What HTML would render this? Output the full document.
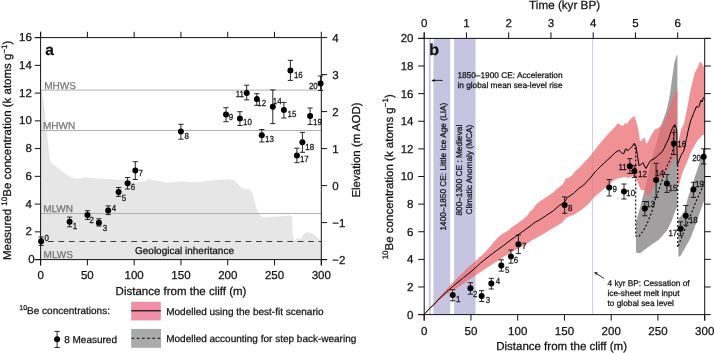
<!DOCTYPE html>
<html><head><meta charset="utf-8"><style>
html,body{margin:0;padding:0;background:#fff;overflow:hidden;}
svg{display:block;font-family:"Liberation Sans", sans-serif;will-change:transform;text-rendering:geometricPrecision;}
text{stroke-width:0.25px;stroke-linejoin:round;}
</style></head><body>
<svg width="714" height="353" viewBox="0 0 714 353">
<rect width="714" height="353" fill="#fff"/>
<polygon points="40.8,89.8 42,91 43.5,100 44.5,108 45.3,115 46.5,128 47.9,141.6 48.8,152 49.9,160 52,163.5 55,165.7 59,169 63.5,172.7 67,175 72,177.8 76,178.5 80.5,178.4 84,177.5 89,177.6 93,178 98,178.4 113,179.2 128.5,180.4 136.2,182.7 145,181.5 148.6,178.9 152,180 156.3,180.4 167,182.7 175,182 182.4,181.2 190.2,182.3 200,181.9 208.5,180.8 217,179.9 228.3,179.3 234,179.9 236.8,182.7 242.5,188.4 249.6,189.3 252.4,192.7 255.2,204 258,211.9 260.9,215.9 263.7,217.6 273.6,216.7 285,215.9 290,215.3 292,216.7 292.9,238 294.9,240.2 297.7,238 300.5,239.4 303.4,234.6 306.2,232.3 311.9,232.9 314.7,235.1 317.5,237.4 320.4,240.8 321.3,241 321.3,259.6 40.8,259.6" fill="#e6e6e6" />
<line x1="40.6" y1="90.1" x2="321.3" y2="90.1" stroke="#b0b0b0" stroke-width="1" />
<text x="44.2" y="88.8" font-size="10" text-anchor="start" fill="#767676" stroke="#767676" >MHWS</text>
<line x1="40.6" y1="130.5" x2="321.3" y2="130.5" stroke="#b0b0b0" stroke-width="1" />
<text x="42.9" y="129.2" font-size="10" text-anchor="start" fill="#767676" stroke="#767676" >MHWN</text>
<line x1="40.6" y1="213.5" x2="321.3" y2="213.5" stroke="#b0b0b0" stroke-width="1" />
<text x="43.2" y="212.2" font-size="10" text-anchor="start" fill="#767676" stroke="#767676" >MLWN</text>
<text x="43.6" y="258.3" font-size="10" text-anchor="start" fill="#767676" stroke="#767676" >MLWS</text>
<line x1="40.6" y1="241.5" x2="321.3" y2="241.5" stroke="#3a3a3a" stroke-width="1.2" stroke-dasharray="5.7 4.7" stroke-dashoffset="2.9"/>
<text x="135" y="253.8" font-size="10" text-anchor="start" fill="#111111" stroke="#111111" >Geological inheritance</text>
<line x1="40.6" y1="31.8" x2="40.6" y2="265.4" stroke="#111111" stroke-width="1" />
<line x1="321.3" y1="37.6" x2="321.3" y2="265.4" stroke="#111111" stroke-width="1" />
<line x1="34.8" y1="37.6" x2="321.3" y2="37.6" stroke="#111111" stroke-width="1" />
<line x1="34.8" y1="259.6" x2="327.1" y2="259.6" stroke="#111111" stroke-width="1" />
<line x1="34.8" y1="259.6" x2="40.6" y2="259.6" stroke="#111111" stroke-width="1" />
<text x="34.6" y="263.2" font-size="11.5" text-anchor="end" fill="#111111" stroke="#111111" >0</text>
<line x1="34.8" y1="231.85" x2="40.6" y2="231.85" stroke="#111111" stroke-width="1" />
<text x="31.8" y="235.45" font-size="11.5" text-anchor="end" fill="#111111" stroke="#111111" >2</text>
<line x1="34.8" y1="204.1" x2="40.6" y2="204.1" stroke="#111111" stroke-width="1" />
<text x="31.8" y="207.7" font-size="11.5" text-anchor="end" fill="#111111" stroke="#111111" >4</text>
<line x1="34.8" y1="176.35" x2="40.6" y2="176.35" stroke="#111111" stroke-width="1" />
<text x="31.8" y="179.95" font-size="11.5" text-anchor="end" fill="#111111" stroke="#111111" >6</text>
<line x1="34.8" y1="148.6" x2="40.6" y2="148.6" stroke="#111111" stroke-width="1" />
<text x="31.8" y="152.2" font-size="11.5" text-anchor="end" fill="#111111" stroke="#111111" >8</text>
<line x1="34.8" y1="120.85" x2="40.6" y2="120.85" stroke="#111111" stroke-width="1" />
<text x="31.8" y="124.45" font-size="11.5" text-anchor="end" fill="#111111" stroke="#111111" >10</text>
<line x1="34.8" y1="93.1" x2="40.6" y2="93.1" stroke="#111111" stroke-width="1" />
<text x="31.8" y="96.7" font-size="11.5" text-anchor="end" fill="#111111" stroke="#111111" >12</text>
<line x1="34.8" y1="65.35" x2="40.6" y2="65.35" stroke="#111111" stroke-width="1" />
<text x="31.8" y="68.95" font-size="11.5" text-anchor="end" fill="#111111" stroke="#111111" >14</text>
<line x1="34.8" y1="37.6" x2="40.6" y2="37.6" stroke="#111111" stroke-width="1" />
<text x="31.8" y="41.2" font-size="11.5" text-anchor="end" fill="#111111" stroke="#111111" >16</text>
<line x1="40.6" y1="259.6" x2="40.6" y2="265.4" stroke="#111111" stroke-width="1" />
<line x1="40.6" y1="37.6" x2="40.6" y2="31.8" stroke="#111111" stroke-width="1" />
<text x="40.6" y="278.9" font-size="11.5" text-anchor="middle" fill="#111111" stroke="#111111" >0</text>
<line x1="87.38" y1="259.6" x2="87.38" y2="265.4" stroke="#111111" stroke-width="1" />
<line x1="87.38" y1="37.6" x2="87.38" y2="31.8" stroke="#111111" stroke-width="1" />
<text x="87.38" y="278.9" font-size="11.5" text-anchor="middle" fill="#111111" stroke="#111111" >50</text>
<line x1="134.17" y1="259.6" x2="134.17" y2="265.4" stroke="#111111" stroke-width="1" />
<line x1="134.17" y1="37.6" x2="134.17" y2="31.8" stroke="#111111" stroke-width="1" />
<text x="134.17" y="278.9" font-size="11.5" text-anchor="middle" fill="#111111" stroke="#111111" >100</text>
<line x1="180.95" y1="259.6" x2="180.95" y2="265.4" stroke="#111111" stroke-width="1" />
<line x1="180.95" y1="37.6" x2="180.95" y2="31.8" stroke="#111111" stroke-width="1" />
<text x="180.95" y="278.9" font-size="11.5" text-anchor="middle" fill="#111111" stroke="#111111" >150</text>
<line x1="227.73" y1="259.6" x2="227.73" y2="265.4" stroke="#111111" stroke-width="1" />
<line x1="227.73" y1="37.6" x2="227.73" y2="31.8" stroke="#111111" stroke-width="1" />
<text x="227.73" y="278.9" font-size="11.5" text-anchor="middle" fill="#111111" stroke="#111111" >200</text>
<line x1="274.52" y1="259.6" x2="274.52" y2="265.4" stroke="#111111" stroke-width="1" />
<line x1="274.52" y1="37.6" x2="274.52" y2="31.8" stroke="#111111" stroke-width="1" />
<text x="274.52" y="278.9" font-size="11.5" text-anchor="middle" fill="#111111" stroke="#111111" >250</text>
<line x1="321.3" y1="259.6" x2="321.3" y2="265.4" stroke="#111111" stroke-width="1" />
<line x1="321.3" y1="37.6" x2="321.3" y2="31.8" stroke="#111111" stroke-width="1" />
<text x="321.3" y="278.9" font-size="11.5" text-anchor="middle" fill="#111111" stroke="#111111" >300</text>
<line x1="321.3" y1="259.6" x2="327.1" y2="259.6" stroke="#111111" stroke-width="1" />
<text x="332.3" y="263.5" font-size="11.5" text-anchor="start" fill="#111111" stroke="#111111" >−2</text>
<line x1="321.3" y1="222.6" x2="327.1" y2="222.6" stroke="#111111" stroke-width="1" />
<text x="332.3" y="226.5" font-size="11.5" text-anchor="start" fill="#111111" stroke="#111111" >−1</text>
<line x1="321.3" y1="185.6" x2="327.1" y2="185.6" stroke="#111111" stroke-width="1" />
<text x="332.3" y="189.5" font-size="11.5" text-anchor="start" fill="#111111" stroke="#111111" >0</text>
<line x1="321.3" y1="148.6" x2="327.1" y2="148.6" stroke="#111111" stroke-width="1" />
<text x="332.3" y="152.5" font-size="11.5" text-anchor="start" fill="#111111" stroke="#111111" >1</text>
<line x1="321.3" y1="111.6" x2="327.1" y2="111.6" stroke="#111111" stroke-width="1" />
<text x="332.3" y="115.5" font-size="11.5" text-anchor="start" fill="#111111" stroke="#111111" >2</text>
<line x1="321.3" y1="74.6" x2="327.1" y2="74.6" stroke="#111111" stroke-width="1" />
<text x="332.3" y="78.5" font-size="11.5" text-anchor="start" fill="#111111" stroke="#111111" >3</text>
<line x1="321.3" y1="37.6" x2="327.1" y2="37.6" stroke="#111111" stroke-width="1" />
<text x="332.3" y="41.5" font-size="11.5" text-anchor="start" fill="#111111" stroke="#111111" >4</text>
<text transform="translate(11,150.3) rotate(-90)" font-size="11.5" text-anchor="middle" fill="#111111" stroke="#111111">Measured <tspan font-size="8" dy="-4.2">10</tspan><tspan dy="4.2">Be concentration (k atoms g</tspan><tspan font-size="8" dy="-4.2">−1</tspan><tspan dy="4.2">)</tspan></text>
<text transform="translate(360.3,150) rotate(-90)" font-size="11.5" text-anchor="middle" fill="#111111" stroke="#111111">Elevation (m AOD)</text>
<text x="181" y="294.7" font-size="11.5" text-anchor="middle" fill="#111111" stroke="#111111" >Distance from the cliff (m)</text>
<text x="45.2" y="55.3" font-size="15.5" font-weight="bold" fill="#111111" stroke="#111111">a</text>
<line x1="41.1" y1="237" x2="41.1" y2="245.4" stroke="#111111" stroke-width="0.9" />
<line x1="38.5" y1="237" x2="43.7" y2="237" stroke="#111111" stroke-width="0.9" />
<line x1="38.5" y1="245.4" x2="43.7" y2="245.4" stroke="#111111" stroke-width="0.9" />
<circle cx="41.1" cy="241.3" r="3.0" fill="#000"/>
<text transform="translate(44.48,240.8) scale(0.9,1)" font-size="8.8" fill="#111111" stroke="#111111">0</text>
<line x1="69.6" y1="217.1" x2="69.6" y2="226.8" stroke="#111111" stroke-width="0.9" />
<line x1="67" y1="217.1" x2="72.2" y2="217.1" stroke="#111111" stroke-width="0.9" />
<line x1="67" y1="226.8" x2="72.2" y2="226.8" stroke="#111111" stroke-width="0.9" />
<circle cx="69.6" cy="221.7" r="3.0" fill="#000"/>
<text transform="translate(72.71,228.9) scale(0.9,1)" font-size="8.8" fill="#111111" stroke="#111111">1</text>
<line x1="87.5" y1="210.7" x2="87.5" y2="219.5" stroke="#111111" stroke-width="0.9" />
<line x1="84.9" y1="210.7" x2="90.1" y2="210.7" stroke="#111111" stroke-width="0.9" />
<line x1="84.9" y1="219.5" x2="90.1" y2="219.5" stroke="#111111" stroke-width="0.9" />
<circle cx="87.5" cy="214.9" r="3.0" fill="#000"/>
<text transform="translate(89.6,223.4) scale(0.9,1)" font-size="8.8" fill="#111111" stroke="#111111">2</text>
<line x1="98.9" y1="218.8" x2="98.9" y2="226" stroke="#111111" stroke-width="0.9" />
<line x1="96.3" y1="218.8" x2="101.5" y2="218.8" stroke="#111111" stroke-width="0.9" />
<line x1="96.3" y1="226" x2="101.5" y2="226" stroke="#111111" stroke-width="0.9" />
<circle cx="98.9" cy="222.7" r="3.0" fill="#000"/>
<text transform="translate(102.68,231) scale(0.9,1)" font-size="8.8" fill="#111111" stroke="#111111">3</text>
<line x1="108.2" y1="205.9" x2="108.2" y2="214.6" stroke="#111111" stroke-width="0.9" />
<line x1="105.6" y1="205.9" x2="110.8" y2="205.9" stroke="#111111" stroke-width="0.9" />
<line x1="105.6" y1="214.6" x2="110.8" y2="214.6" stroke="#111111" stroke-width="0.9" />
<circle cx="108.2" cy="210.4" r="3.0" fill="#000"/>
<text transform="translate(111.84,211.3) scale(0.9,1)" font-size="8.8" fill="#111111" stroke="#111111">4</text>
<line x1="118.6" y1="187.5" x2="118.6" y2="196.4" stroke="#111111" stroke-width="0.9" />
<line x1="116" y1="187.5" x2="121.2" y2="187.5" stroke="#111111" stroke-width="0.9" />
<line x1="116" y1="196.4" x2="121.2" y2="196.4" stroke="#111111" stroke-width="0.9" />
<circle cx="118.6" cy="191.9" r="3.0" fill="#000"/>
<text transform="translate(121.68,201.1) scale(0.9,1)" font-size="8.8" fill="#111111" stroke="#111111">5</text>
<line x1="127.6" y1="177.5" x2="127.6" y2="189" stroke="#111111" stroke-width="0.9" />
<line x1="125" y1="177.5" x2="130.2" y2="177.5" stroke="#111111" stroke-width="0.9" />
<line x1="125" y1="189" x2="130.2" y2="189" stroke="#111111" stroke-width="0.9" />
<circle cx="127.6" cy="183.3" r="3.0" fill="#000"/>
<text transform="translate(130.8,189.9) scale(0.9,1)" font-size="8.8" fill="#111111" stroke="#111111">6</text>
<line x1="135.3" y1="161.7" x2="135.3" y2="179.5" stroke="#111111" stroke-width="0.9" />
<line x1="132.7" y1="161.7" x2="137.9" y2="161.7" stroke="#111111" stroke-width="0.9" />
<line x1="132.7" y1="179.5" x2="137.9" y2="179.5" stroke="#111111" stroke-width="0.9" />
<circle cx="135.3" cy="170.4" r="3.0" fill="#000"/>
<text transform="translate(138.4,176.1) scale(0.9,1)" font-size="8.8" fill="#111111" stroke="#111111">7</text>
<line x1="180.9" y1="124.3" x2="180.9" y2="139.2" stroke="#111111" stroke-width="0.9" />
<line x1="178.3" y1="124.3" x2="183.5" y2="124.3" stroke="#111111" stroke-width="0.9" />
<line x1="178.3" y1="139.2" x2="183.5" y2="139.2" stroke="#111111" stroke-width="0.9" />
<circle cx="180.9" cy="131.5" r="3.0" fill="#000"/>
<text transform="translate(184.44,138.8) scale(0.9,1)" font-size="8.8" fill="#111111" stroke="#111111">8</text>
<line x1="226" y1="107.7" x2="226" y2="121.7" stroke="#111111" stroke-width="0.9" />
<line x1="223.4" y1="107.7" x2="228.6" y2="107.7" stroke="#111111" stroke-width="0.9" />
<line x1="223.4" y1="121.7" x2="228.6" y2="121.7" stroke="#111111" stroke-width="0.9" />
<circle cx="226" cy="114.4" r="3.0" fill="#000"/>
<text transform="translate(228.74,119.6) scale(0.9,1)" font-size="8.8" fill="#111111" stroke="#111111">9</text>
<line x1="239.9" y1="111.7" x2="239.9" y2="125.5" stroke="#111111" stroke-width="0.9" />
<line x1="237.3" y1="111.7" x2="242.5" y2="111.7" stroke="#111111" stroke-width="0.9" />
<line x1="237.3" y1="125.5" x2="242.5" y2="125.5" stroke="#111111" stroke-width="0.9" />
<circle cx="239.9" cy="118.6" r="3.0" fill="#000"/>
<text transform="translate(243.01,124.7) scale(0.9,1)" font-size="8.8" fill="#111111" stroke="#111111">10</text>
<line x1="246.7" y1="85.2" x2="246.7" y2="99.9" stroke="#111111" stroke-width="0.9" />
<line x1="244.1" y1="85.2" x2="249.3" y2="85.2" stroke="#111111" stroke-width="0.9" />
<line x1="244.1" y1="99.9" x2="249.3" y2="99.9" stroke="#111111" stroke-width="0.9" />
<circle cx="246.7" cy="92.9" r="3.0" fill="#000"/>
<text transform="translate(243.98,96.7) scale(0.9,1)" font-size="8.8" text-anchor="end" fill="#111111" stroke="#111111">11</text>
<line x1="256.8" y1="93.7" x2="256.8" y2="105.3" stroke="#111111" stroke-width="0.9" />
<line x1="254.2" y1="93.7" x2="259.4" y2="93.7" stroke="#111111" stroke-width="0.9" />
<line x1="254.2" y1="105.3" x2="259.4" y2="105.3" stroke="#111111" stroke-width="0.9" />
<circle cx="256.8" cy="99.1" r="3.0" fill="#000"/>
<text transform="translate(257.31,105.9) scale(0.9,1)" font-size="8.8" fill="#111111" stroke="#111111">12</text>
<line x1="261.8" y1="129.5" x2="261.8" y2="142" stroke="#111111" stroke-width="0.9" />
<line x1="259.2" y1="129.5" x2="264.4" y2="129.5" stroke="#111111" stroke-width="0.9" />
<line x1="259.2" y1="142" x2="264.4" y2="142" stroke="#111111" stroke-width="0.9" />
<circle cx="261.8" cy="135.2" r="3.0" fill="#000"/>
<text transform="translate(265.11,141.8) scale(0.9,1)" font-size="8.8" fill="#111111" stroke="#111111">13</text>
<line x1="272.8" y1="89.9" x2="272.8" y2="123.6" stroke="#111111" stroke-width="0.9" />
<line x1="270.2" y1="89.9" x2="275.4" y2="89.9" stroke="#111111" stroke-width="0.9" />
<line x1="270.2" y1="123.6" x2="275.4" y2="123.6" stroke="#111111" stroke-width="0.9" />
<circle cx="272.8" cy="106.7" r="3.0" fill="#000"/>
<text transform="translate(272.81,103.5) scale(0.9,1)" font-size="8.8" fill="#111111" stroke="#111111">14</text>
<line x1="283.9" y1="102.4" x2="283.9" y2="118" stroke="#111111" stroke-width="0.9" />
<line x1="281.3" y1="102.4" x2="286.5" y2="102.4" stroke="#111111" stroke-width="0.9" />
<line x1="281.3" y1="118" x2="286.5" y2="118" stroke="#111111" stroke-width="0.9" />
<circle cx="283.9" cy="109.9" r="3.0" fill="#000"/>
<text transform="translate(287.61,116.6) scale(0.9,1)" font-size="8.8" fill="#111111" stroke="#111111">15</text>
<line x1="290.4" y1="60.3" x2="290.4" y2="80.4" stroke="#111111" stroke-width="0.9" />
<line x1="287.8" y1="60.3" x2="293" y2="60.3" stroke="#111111" stroke-width="0.9" />
<line x1="287.8" y1="80.4" x2="293" y2="80.4" stroke="#111111" stroke-width="0.9" />
<circle cx="290.4" cy="70.6" r="3.0" fill="#000"/>
<text transform="translate(293.91,77.5) scale(0.9,1)" font-size="8.8" fill="#111111" stroke="#111111">16</text>
<line x1="296.9" y1="148.2" x2="296.9" y2="162.7" stroke="#111111" stroke-width="0.9" />
<line x1="294.3" y1="148.2" x2="299.5" y2="148.2" stroke="#111111" stroke-width="0.9" />
<line x1="294.3" y1="162.7" x2="299.5" y2="162.7" stroke="#111111" stroke-width="0.9" />
<circle cx="296.9" cy="155.5" r="3.0" fill="#000"/>
<text transform="translate(299.91,162.4) scale(0.9,1)" font-size="8.8" fill="#111111" stroke="#111111">17</text>
<line x1="302.4" y1="132.4" x2="302.4" y2="152.3" stroke="#111111" stroke-width="0.9" />
<line x1="299.8" y1="132.4" x2="305" y2="132.4" stroke="#111111" stroke-width="0.9" />
<line x1="299.8" y1="152.3" x2="305" y2="152.3" stroke="#111111" stroke-width="0.9" />
<circle cx="302.4" cy="142.3" r="3.0" fill="#000"/>
<text transform="translate(305.31,149.6) scale(0.9,1)" font-size="8.8" fill="#111111" stroke="#111111">18</text>
<line x1="310.1" y1="108" x2="310.1" y2="124.5" stroke="#111111" stroke-width="0.9" />
<line x1="307.5" y1="108" x2="312.7" y2="108" stroke="#111111" stroke-width="0.9" />
<line x1="307.5" y1="124.5" x2="312.7" y2="124.5" stroke="#111111" stroke-width="0.9" />
<circle cx="310.1" cy="116" r="3.0" fill="#000"/>
<text transform="translate(313.11,124.5) scale(0.9,1)" font-size="8.8" fill="#111111" stroke="#111111">19</text>
<line x1="320.6" y1="76" x2="320.6" y2="90.5" stroke="#111111" stroke-width="0.9" />
<line x1="318" y1="76" x2="323.2" y2="76" stroke="#111111" stroke-width="0.9" />
<line x1="318" y1="90.5" x2="323.2" y2="90.5" stroke="#111111" stroke-width="0.9" />
<circle cx="320.6" cy="83.4" r="3.0" fill="#000"/>
<text transform="translate(317.7,88.8) scale(0.9,1)" font-size="8.8" text-anchor="end" fill="#111111" stroke="#111111">20</text>
<rect x="428.8" y="38.4" width="1.9" height="276.20000000000005" fill="#c6c4e1"/>
<rect x="433.4" y="38.4" width="16.8" height="276.20000000000005" fill="#c6c4e1"/>
<rect x="454.1" y="38.4" width="21.4" height="276.20000000000005" fill="#c6c4e1"/>
<line x1="592.6" y1="38.4" x2="592.6" y2="314.6" stroke="#cfcde8" stroke-width="1" />
<polygon points="636,222 640,208 644.5,190.3 646.5,182 648.5,173 651.5,160 654.5,150 657.5,139 661.8,123.2 664.1,117.6 666.4,110.8 668.6,101.7 670.5,90.4 672,79 674.3,63.1 676.6,55.2 677.4,55.2 677.4,207 675.2,211 671.5,221.5 667,230.5 659,239.5 647.5,247.5 640,253.2 636,252.5" fill="#a19f9f" />
<polygon points="678.4,219 678.4,256.6 680.1,256.6 690.6,238 697.5,219.4 700.2,211.4 704.7,199 704.7,146 703.8,150 699.9,161.9 695.9,173.8 691.9,185.7 687.9,197.7 685,210.2 681,216" fill="#a19f9f" />
<polygon points="424.2,314.6 430,308 437.7,299 446.2,289.6 452.2,282.8 456.3,279 463.5,272 468,267.6 476.5,260.2 485,252.3 490.1,246.5 495,240.8 500,235.5 509,230 511.3,227.5 518.5,222.8 522.7,219.5 527,216 530,211.5 532.9,209.2 535.7,204.7 541.3,200.2 547,196.8 552.7,192.8 559.3,187.1 562.7,184.5 566.1,177.7 567.8,178.6 572.1,175.2 575.5,171 580,167.1 589.7,156.5 591,155 597.7,146.2 602,141.1 607.9,134.3 612,130 615,126.7 617.8,123.5 620.7,124.9 622.8,125.9 625.6,122.7 627,124.2 629.2,120.6 632,117.8 634.1,116 634.8,117.1 637,124.2 638.4,129.8 639.8,140.5 641.2,141.2 643.3,138.3 644.7,137.6 646.2,144 647.6,142.6 650.4,136.9 654.2,130 657.5,128.4 661.7,125.5 663,125 665.2,119.8 668.6,110.8 672,99.4 675.5,91.5 677.4,91.5 677.2,155 675.5,156.3 666.3,171.9 659.2,180.4 653.5,187.5 649.3,195 647,196 644.1,189.7 641.3,190.5 639.2,186.2 636.6,179.4 632.4,176 629,177.7 624.7,176.9 620.5,177.7 616.2,179 612,181.6 611.2,182.9 602.7,190 595,196.5 593,198.6 588.8,203.7 582,209.6 573.5,215 570,216 565.5,218.5 562.1,222.7 557,225.7 548.5,230.8 545,233 537.1,237.6 532,240.2 523.5,246.1 515,250 510.5,252.6 502,257.7 498,260.8 493.5,263.6 485,269 480.5,272 472,277.8 463.5,283.6 455,289.5 446.2,293.9 438,301.5 431,308.2 426,313" fill="rgba(235,108,115,0.75)" />
<polygon points="677.4,188 677.4,150 678.8,139.3 681.3,129.1 683.9,124 686.4,112.1 688.1,103.6 689.8,93.4 691.8,84.7 694.8,72.8 697.8,66.9 699.7,61.9 701.7,62.9 703.7,66.9 704.7,65.5 704.7,134 701.7,136 697.5,140.5 691.9,150 687.9,159.9 682,173.8 678.2,187.7" fill="rgba(235,108,115,0.75)" />
<polyline points="424.2,314.6 427,311 430.7,307.2 433.3,305.3 437.7,300.3 446.2,292.2 455,284.5 463.5,277.7 472,270.9 480.7,262.9 489.2,256.1 493.5,252.8 503.7,245.4 510,240.5 518.1,234.8 525.3,229.6 531.7,225 534,222.8 538.9,220.3 546.8,215.1 553.6,210.6 559.5,205.3 562,204 565,201.3 567.4,197.5 573.5,193.5 578.6,188.6 583.7,185 590,178.3 595.1,171.9 601,166 607,160.4 611,156.8 614.9,152.8 617.9,150.8 619.4,150.3 620.9,152.3 622.3,153.3 623.8,153.8 625.3,149.3 626.3,148.8 627.3,150.8 628.8,149.8 631.8,146.8 634.2,143.4 635.9,146.2 637.5,155.6 639,165.7 640.6,164.9 642.9,162.6 644.5,166 646,168.5 648.4,164 650.7,160.3 653,159.5 656.2,157.1 658.5,154.8 661.6,152.5 664,148.5 666.3,143.5 668.6,139 671,131.5 673,127 674.8,124.5 676.8,130.3 677.3,165 680.9,155.7 683.8,150.8 686.4,139.3 688.1,130.8 690.7,120.6 694.1,112.1 696.6,106.1 697.8,107.5 699.2,106.1 700.9,100.2 702,102 703.4,97.6 704.7,99.3" fill="none" stroke="#000" stroke-width="1.0" stroke-linejoin="round" />
<polyline points="634.4,143.6 635.7,152 635.7,236 638.9,236.7 643.9,229.7 647.9,221.8 651.8,211.8 655.8,198 658.5,191 664,174.5 667.5,165 670.3,159.6 671.6,154.5 672.9,149.4 673.5,137 674.6,125" fill="none" stroke="#000" stroke-width="1.1" stroke-linejoin="round" stroke-dasharray="2 2"/>
<polyline points="677.7,165 677.7,247.3 681.5,237.7 685.2,228.5 689.8,217.4 696.3,200.8 701.8,188.8 704.5,181" fill="none" stroke="#000" stroke-width="1.1" stroke-linejoin="round" stroke-dasharray="2 2"/>
<line x1="424.2" y1="32.4" x2="424.2" y2="320.6" stroke="#111111" stroke-width="1" />
<line x1="704.7" y1="38.4" x2="704.7" y2="320.6" stroke="#111111" stroke-width="1" />
<line x1="418.2" y1="38.4" x2="710.7" y2="38.4" stroke="#111111" stroke-width="1" />
<line x1="418.2" y1="314.6" x2="704.7" y2="314.6" stroke="#111111" stroke-width="1" />
<line x1="418.2" y1="314.6" x2="424.2" y2="314.6" stroke="#111111" stroke-width="1" />
<line x1="704.7" y1="314.6" x2="710.7" y2="314.6" stroke="#111111" stroke-width="1" />
<text x="413.5" y="318.5" font-size="11.5" text-anchor="end" fill="#111111" stroke="#111111" >0</text>
<line x1="418.2" y1="286.98" x2="424.2" y2="286.98" stroke="#111111" stroke-width="1" />
<line x1="704.7" y1="286.98" x2="710.7" y2="286.98" stroke="#111111" stroke-width="1" />
<text x="413.5" y="290.88" font-size="11.5" text-anchor="end" fill="#111111" stroke="#111111" >2</text>
<line x1="418.2" y1="259.36" x2="424.2" y2="259.36" stroke="#111111" stroke-width="1" />
<line x1="704.7" y1="259.36" x2="710.7" y2="259.36" stroke="#111111" stroke-width="1" />
<text x="413.5" y="263.26" font-size="11.5" text-anchor="end" fill="#111111" stroke="#111111" >4</text>
<line x1="418.2" y1="231.74" x2="424.2" y2="231.74" stroke="#111111" stroke-width="1" />
<line x1="704.7" y1="231.74" x2="710.7" y2="231.74" stroke="#111111" stroke-width="1" />
<text x="413.5" y="235.64" font-size="11.5" text-anchor="end" fill="#111111" stroke="#111111" >6</text>
<line x1="418.2" y1="204.12" x2="424.2" y2="204.12" stroke="#111111" stroke-width="1" />
<line x1="704.7" y1="204.12" x2="710.7" y2="204.12" stroke="#111111" stroke-width="1" />
<text x="413.5" y="208.02" font-size="11.5" text-anchor="end" fill="#111111" stroke="#111111" >8</text>
<line x1="418.2" y1="176.5" x2="424.2" y2="176.5" stroke="#111111" stroke-width="1" />
<line x1="704.7" y1="176.5" x2="710.7" y2="176.5" stroke="#111111" stroke-width="1" />
<text x="413.5" y="180.4" font-size="11.5" text-anchor="end" fill="#111111" stroke="#111111" >10</text>
<line x1="418.2" y1="148.88" x2="424.2" y2="148.88" stroke="#111111" stroke-width="1" />
<line x1="704.7" y1="148.88" x2="710.7" y2="148.88" stroke="#111111" stroke-width="1" />
<text x="413.5" y="152.78" font-size="11.5" text-anchor="end" fill="#111111" stroke="#111111" >12</text>
<line x1="418.2" y1="121.26" x2="424.2" y2="121.26" stroke="#111111" stroke-width="1" />
<line x1="704.7" y1="121.26" x2="710.7" y2="121.26" stroke="#111111" stroke-width="1" />
<text x="413.5" y="125.16" font-size="11.5" text-anchor="end" fill="#111111" stroke="#111111" >14</text>
<line x1="418.2" y1="93.64" x2="424.2" y2="93.64" stroke="#111111" stroke-width="1" />
<line x1="704.7" y1="93.64" x2="710.7" y2="93.64" stroke="#111111" stroke-width="1" />
<text x="413.5" y="97.54" font-size="11.5" text-anchor="end" fill="#111111" stroke="#111111" >16</text>
<line x1="418.2" y1="66.02" x2="424.2" y2="66.02" stroke="#111111" stroke-width="1" />
<line x1="704.7" y1="66.02" x2="710.7" y2="66.02" stroke="#111111" stroke-width="1" />
<text x="413.5" y="69.92" font-size="11.5" text-anchor="end" fill="#111111" stroke="#111111" >18</text>
<line x1="418.2" y1="38.4" x2="424.2" y2="38.4" stroke="#111111" stroke-width="1" />
<line x1="704.7" y1="38.4" x2="710.7" y2="38.4" stroke="#111111" stroke-width="1" />
<text x="413.5" y="42.3" font-size="11.5" text-anchor="end" fill="#111111" stroke="#111111" >20</text>
<line x1="424.2" y1="314.6" x2="424.2" y2="320.6" stroke="#111111" stroke-width="1" />
<text x="424.2" y="334.6" font-size="11.5" text-anchor="middle" fill="#111111" stroke="#111111" >0</text>
<line x1="470.95" y1="314.6" x2="470.95" y2="320.6" stroke="#111111" stroke-width="1" />
<text x="470.95" y="334.6" font-size="11.5" text-anchor="middle" fill="#111111" stroke="#111111" >50</text>
<line x1="517.7" y1="314.6" x2="517.7" y2="320.6" stroke="#111111" stroke-width="1" />
<text x="517.7" y="334.6" font-size="11.5" text-anchor="middle" fill="#111111" stroke="#111111" >100</text>
<line x1="564.45" y1="314.6" x2="564.45" y2="320.6" stroke="#111111" stroke-width="1" />
<text x="564.45" y="334.6" font-size="11.5" text-anchor="middle" fill="#111111" stroke="#111111" >150</text>
<line x1="611.2" y1="314.6" x2="611.2" y2="320.6" stroke="#111111" stroke-width="1" />
<text x="611.2" y="334.6" font-size="11.5" text-anchor="middle" fill="#111111" stroke="#111111" >200</text>
<line x1="657.95" y1="314.6" x2="657.95" y2="320.6" stroke="#111111" stroke-width="1" />
<text x="657.95" y="334.6" font-size="11.5" text-anchor="middle" fill="#111111" stroke="#111111" >250</text>
<line x1="704.7" y1="314.6" x2="704.7" y2="320.6" stroke="#111111" stroke-width="1" />
<text x="704.7" y="334.6" font-size="11.5" text-anchor="middle" fill="#111111" stroke="#111111" >300</text>
<line x1="424.2" y1="38.4" x2="424.2" y2="32.4" stroke="#111111" stroke-width="1" />
<text x="424.2" y="26.8" font-size="11.5" text-anchor="middle" fill="#111111" stroke="#111111" >0</text>
<line x1="466.45" y1="38.4" x2="466.45" y2="32.4" stroke="#111111" stroke-width="1" />
<text x="466.45" y="26.8" font-size="11.5" text-anchor="middle" fill="#111111" stroke="#111111" >1</text>
<line x1="508.7" y1="38.4" x2="508.7" y2="32.4" stroke="#111111" stroke-width="1" />
<text x="508.7" y="26.8" font-size="11.5" text-anchor="middle" fill="#111111" stroke="#111111" >2</text>
<line x1="550.95" y1="38.4" x2="550.95" y2="32.4" stroke="#111111" stroke-width="1" />
<text x="550.95" y="26.8" font-size="11.5" text-anchor="middle" fill="#111111" stroke="#111111" >3</text>
<line x1="593.2" y1="38.4" x2="593.2" y2="32.4" stroke="#111111" stroke-width="1" />
<text x="593.2" y="26.8" font-size="11.5" text-anchor="middle" fill="#111111" stroke="#111111" >4</text>
<line x1="635.45" y1="38.4" x2="635.45" y2="32.4" stroke="#111111" stroke-width="1" />
<text x="635.45" y="26.8" font-size="11.5" text-anchor="middle" fill="#111111" stroke="#111111" >5</text>
<line x1="677.7" y1="38.4" x2="677.7" y2="32.4" stroke="#111111" stroke-width="1" />
<text x="677.7" y="26.8" font-size="11.5" text-anchor="middle" fill="#111111" stroke="#111111" >6</text>
<text x="564.6" y="8.8" font-size="11.7" text-anchor="middle" fill="#111111" stroke="#111111" >Time (kyr BP)</text>
<text x="561.6" y="350.4" font-size="11.5" text-anchor="middle" fill="#111111" stroke="#111111" >Distance from the cliff (m)</text>
<text transform="translate(392.5,176.8) rotate(-90)" font-size="11.5" text-anchor="middle" fill="#111111" stroke="#111111"><tspan font-size="8" dy="-4.2">10</tspan><tspan dy="4.2">Be concentration (k atoms g</tspan><tspan font-size="8" dy="-4.2">−1</tspan><tspan dy="4.2">)</tspan></text>
<text x="429.2" y="55.2" font-size="16" font-weight="bold" fill="#111111" stroke="#111111">b</text>
<text transform="translate(445.8,230.5) rotate(-90)" font-size="8.3" fill="#111111" stroke="#111111">1400–1850 CE: Little Ice Age (LIA)</text>
<text transform="translate(462.3,215.6) rotate(-90)" font-size="8.3" fill="#111111" stroke="#111111">800–1300 CE : Medieval</text>
<text transform="translate(472.3,214.6) rotate(-90)" font-size="8.3" fill="#111111" stroke="#111111">Climatic Anomaly (MCA)</text>
<text x="457.4" y="78.3" font-size="8.3" text-anchor="start" fill="#111111" stroke="#111111" >1850–1900 CE: Acceleration</text>
<text x="457.4" y="88.3" font-size="8.3" text-anchor="start" fill="#111111" stroke="#111111" >in global mean sea-level rise</text>
<line x1="434" y1="80.4" x2="442.7" y2="80.4" stroke="#111111" stroke-width="0.9" />
<polygon points="431.3,80.4 434.6,78.9 434.6,81.9" fill="#111111" />
<line x1="604" y1="278.5" x2="596.5" y2="273.6" stroke="#111111" stroke-width="0.9" />
<polygon points="594,272.1 597.8,272.6 596.2,275.1" fill="#111111" />
<text x="607.5" y="286.1" font-size="8.3" text-anchor="start" fill="#111111" stroke="#111111" >4 kyr BP: Cessation of</text>
<text x="607.5" y="295.9" font-size="8.3" text-anchor="start" fill="#111111" stroke="#111111" >ice-sheet melt input</text>
<text x="607.5" y="305.7" font-size="8.3" text-anchor="start" fill="#111111" stroke="#111111" >to global sea level</text>
<line x1="452.7" y1="289.7" x2="452.7" y2="300.8" stroke="#111111" stroke-width="0.9" />
<line x1="450.1" y1="289.7" x2="455.3" y2="289.7" stroke="#111111" stroke-width="0.9" />
<line x1="450.1" y1="300.8" x2="455.3" y2="300.8" stroke="#111111" stroke-width="0.9" />
<circle cx="452.7" cy="295.1" r="3.0" fill="#000"/>
<text transform="translate(456.11,302) scale(0.9,1)" font-size="8.8" fill="#111111" stroke="#111111">1</text>
<line x1="470.4" y1="282.7" x2="470.4" y2="294.2" stroke="#111111" stroke-width="0.9" />
<line x1="467.8" y1="282.7" x2="473" y2="282.7" stroke="#111111" stroke-width="0.9" />
<line x1="467.8" y1="294.2" x2="473" y2="294.2" stroke="#111111" stroke-width="0.9" />
<circle cx="470.4" cy="288.3" r="3.0" fill="#000"/>
<text transform="translate(472.9,297.3) scale(0.9,1)" font-size="8.8" fill="#111111" stroke="#111111">2</text>
<line x1="481.6" y1="290.6" x2="481.6" y2="301.5" stroke="#111111" stroke-width="0.9" />
<line x1="479" y1="290.6" x2="484.2" y2="290.6" stroke="#111111" stroke-width="0.9" />
<line x1="479" y1="301.5" x2="484.2" y2="301.5" stroke="#111111" stroke-width="0.9" />
<circle cx="481.6" cy="296.1" r="3.0" fill="#000"/>
<text transform="translate(485.68,303.3) scale(0.9,1)" font-size="8.8" fill="#111111" stroke="#111111">3</text>
<line x1="491.3" y1="278.3" x2="491.3" y2="289" stroke="#111111" stroke-width="0.9" />
<line x1="488.7" y1="278.3" x2="493.9" y2="278.3" stroke="#111111" stroke-width="0.9" />
<line x1="488.7" y1="289" x2="493.9" y2="289" stroke="#111111" stroke-width="0.9" />
<circle cx="491.3" cy="283.6" r="3.0" fill="#000"/>
<text transform="translate(495.64,284.4) scale(0.9,1)" font-size="8.8" fill="#111111" stroke="#111111">4</text>
<line x1="501.3" y1="259.8" x2="501.3" y2="271.2" stroke="#111111" stroke-width="0.9" />
<line x1="498.7" y1="259.8" x2="503.9" y2="259.8" stroke="#111111" stroke-width="0.9" />
<line x1="498.7" y1="271.2" x2="503.9" y2="271.2" stroke="#111111" stroke-width="0.9" />
<circle cx="501.3" cy="265.4" r="3.0" fill="#000"/>
<text transform="translate(505.08,273.4) scale(0.9,1)" font-size="8.8" fill="#111111" stroke="#111111">5</text>
<line x1="510.9" y1="250" x2="510.9" y2="263.2" stroke="#111111" stroke-width="0.9" />
<line x1="508.3" y1="250" x2="513.5" y2="250" stroke="#111111" stroke-width="0.9" />
<line x1="508.3" y1="263.2" x2="513.5" y2="263.2" stroke="#111111" stroke-width="0.9" />
<circle cx="510.9" cy="256.5" r="3.0" fill="#000"/>
<text transform="translate(513.7,263.2) scale(0.9,1)" font-size="8.8" fill="#111111" stroke="#111111">6</text>
<line x1="518.4" y1="235" x2="518.4" y2="253.6" stroke="#111111" stroke-width="0.9" />
<line x1="515.8" y1="235" x2="521" y2="235" stroke="#111111" stroke-width="0.9" />
<line x1="515.8" y1="253.6" x2="521" y2="253.6" stroke="#111111" stroke-width="0.9" />
<circle cx="518.4" cy="244.2" r="3.0" fill="#000"/>
<text transform="translate(521.9,249) scale(0.9,1)" font-size="8.8" fill="#111111" stroke="#111111">7</text>
<line x1="564.6" y1="196.9" x2="564.6" y2="213.3" stroke="#111111" stroke-width="0.9" />
<line x1="562" y1="196.9" x2="567.2" y2="196.9" stroke="#111111" stroke-width="0.9" />
<line x1="562" y1="213.3" x2="567.2" y2="213.3" stroke="#111111" stroke-width="0.9" />
<circle cx="564.6" cy="205" r="3.0" fill="#000"/>
<text transform="translate(568.04,210.5) scale(0.9,1)" font-size="8.8" fill="#111111" stroke="#111111">8</text>
<line x1="609.2" y1="179.6" x2="609.2" y2="196" stroke="#111111" stroke-width="0.9" />
<line x1="606.6" y1="179.6" x2="611.8" y2="179.6" stroke="#111111" stroke-width="0.9" />
<line x1="606.6" y1="196" x2="611.8" y2="196" stroke="#111111" stroke-width="0.9" />
<circle cx="609.2" cy="187.6" r="3.0" fill="#000"/>
<text transform="translate(612.44,192) scale(0.9,1)" font-size="8.8" fill="#111111" stroke="#111111">9</text>
<line x1="624" y1="184" x2="624" y2="199" stroke="#111111" stroke-width="0.9" />
<line x1="621.4" y1="184" x2="626.6" y2="184" stroke="#111111" stroke-width="0.9" />
<line x1="621.4" y1="199" x2="626.6" y2="199" stroke="#111111" stroke-width="0.9" />
<circle cx="624" cy="191.4" r="3.0" fill="#000"/>
<text transform="translate(626.31,196) scale(0.9,1)" font-size="8.8" fill="#111111" stroke="#111111">10</text>
<line x1="629.8" y1="158.7" x2="629.8" y2="173.5" stroke="#111111" stroke-width="0.9" />
<line x1="627.2" y1="158.7" x2="632.4" y2="158.7" stroke="#111111" stroke-width="0.9" />
<line x1="627.2" y1="173.5" x2="632.4" y2="173.5" stroke="#111111" stroke-width="0.9" />
<circle cx="629.8" cy="166.3" r="3.0" fill="#000"/>
<text transform="translate(626.78,169.6) scale(0.9,1)" font-size="8.8" text-anchor="end" fill="#111111" stroke="#111111">11</text>
<line x1="634.3" y1="165.7" x2="634.3" y2="177.4" stroke="#111111" stroke-width="0.9" />
<line x1="631.7" y1="165.7" x2="636.9" y2="165.7" stroke="#111111" stroke-width="0.9" />
<line x1="631.7" y1="177.4" x2="636.9" y2="177.4" stroke="#111111" stroke-width="0.9" />
<circle cx="634.3" cy="171.3" r="3.0" fill="#000"/>
<text transform="translate(638.01,177) scale(0.9,1)" font-size="8.8" fill="#111111" stroke="#111111">12</text>
<line x1="644.8" y1="201.5" x2="644.8" y2="215.8" stroke="#111111" stroke-width="0.9" />
<line x1="642.2" y1="201.5" x2="647.4" y2="201.5" stroke="#111111" stroke-width="0.9" />
<line x1="642.2" y1="215.8" x2="647.4" y2="215.8" stroke="#111111" stroke-width="0.9" />
<circle cx="644.8" cy="208.6" r="3.0" fill="#000"/>
<text transform="translate(646.01,206.7) scale(0.9,1)" font-size="8.8" fill="#111111" stroke="#111111">13</text>
<line x1="656.1" y1="163.3" x2="656.1" y2="197.5" stroke="#111111" stroke-width="0.9" />
<line x1="653.5" y1="163.3" x2="658.7" y2="163.3" stroke="#111111" stroke-width="0.9" />
<line x1="653.5" y1="197.5" x2="658.7" y2="197.5" stroke="#111111" stroke-width="0.9" />
<circle cx="656.1" cy="180" r="3.0" fill="#000"/>
<text transform="translate(655.31,175.6) scale(0.9,1)" font-size="8.8" fill="#111111" stroke="#111111">14</text>
<line x1="666.9" y1="174.5" x2="666.9" y2="192.4" stroke="#111111" stroke-width="0.9" />
<line x1="664.3" y1="174.5" x2="669.5" y2="174.5" stroke="#111111" stroke-width="0.9" />
<line x1="664.3" y1="192.4" x2="669.5" y2="192.4" stroke="#111111" stroke-width="0.9" />
<circle cx="666.9" cy="183.4" r="3.0" fill="#000"/>
<text transform="translate(668.61,190.9) scale(0.9,1)" font-size="8.8" fill="#111111" stroke="#111111">15</text>
<line x1="673.9" y1="132.3" x2="673.9" y2="154.5" stroke="#111111" stroke-width="0.9" />
<line x1="671.3" y1="132.3" x2="676.5" y2="132.3" stroke="#111111" stroke-width="0.9" />
<line x1="671.3" y1="154.5" x2="676.5" y2="154.5" stroke="#111111" stroke-width="0.9" />
<circle cx="673.9" cy="143.6" r="3.0" fill="#000"/>
<text transform="translate(677.31,147.1) scale(0.9,1)" font-size="8.8" fill="#111111" stroke="#111111">16</text>
<line x1="680.6" y1="221.8" x2="680.6" y2="235.7" stroke="#111111" stroke-width="0.9" />
<line x1="678" y1="221.8" x2="683.2" y2="221.8" stroke="#111111" stroke-width="0.9" />
<line x1="678" y1="235.7" x2="683.2" y2="235.7" stroke="#111111" stroke-width="0.9" />
<circle cx="680.6" cy="228.8" r="3.0" fill="#000"/>
<text transform="translate(677.21,235.8) scale(0.9,1)" font-size="8.8" text-anchor="end" fill="#111111" stroke="#111111">17</text>
<line x1="685.8" y1="205.5" x2="685.8" y2="225.2" stroke="#111111" stroke-width="0.9" />
<line x1="683.2" y1="205.5" x2="688.4" y2="205.5" stroke="#111111" stroke-width="0.9" />
<line x1="683.2" y1="225.2" x2="688.4" y2="225.2" stroke="#111111" stroke-width="0.9" />
<circle cx="685.8" cy="215.7" r="3.0" fill="#000"/>
<text transform="translate(688.91,223.2) scale(0.9,1)" font-size="8.8" fill="#111111" stroke="#111111">18</text>
<line x1="693.4" y1="182.3" x2="693.4" y2="197.4" stroke="#111111" stroke-width="0.9" />
<line x1="690.8" y1="182.3" x2="696" y2="182.3" stroke="#111111" stroke-width="0.9" />
<line x1="690.8" y1="197.4" x2="696" y2="197.4" stroke="#111111" stroke-width="0.9" />
<circle cx="693.4" cy="189.5" r="3.0" fill="#000"/>
<text transform="translate(695.21,187.2) scale(0.9,1)" font-size="8.8" fill="#111111" stroke="#111111">19</text>
<line x1="703.7" y1="148.8" x2="703.7" y2="164" stroke="#111111" stroke-width="0.9" />
<line x1="701.1" y1="148.8" x2="706.3" y2="148.8" stroke="#111111" stroke-width="0.9" />
<line x1="701.1" y1="164" x2="706.3" y2="164" stroke="#111111" stroke-width="0.9" />
<circle cx="703.7" cy="156.7" r="3.0" fill="#000"/>
<text transform="translate(701,160.5) scale(0.9,1)" font-size="8.8" text-anchor="end" fill="#111111" stroke="#111111">20</text>
<text x="19.3" y="313.9" font-size="10" fill="#111111" stroke="#111111"><tspan font-size="7" dy="-3.6">10</tspan><tspan dy="3.6">Be concentrations:</tspan></text>
<rect x="131.2" y="301.8" width="29.6" height="18.6" fill="#f18fa7"/>
<line x1="131.2" y1="310.8" x2="160.8" y2="310.8" stroke="#000" stroke-width="1.1" />
<rect x="131.2" y="328.9" width="29.8" height="18.9" fill="#aaaaaa"/>
<line x1="131.6" y1="338.3" x2="160.8" y2="338.3" stroke="#000" stroke-width="1.1" stroke-dasharray="2.6 2.6"/>
<text x="166.2" y="315.3" font-size="10" text-anchor="start" fill="#111111" stroke="#111111" >Modelled using the best-fit scenario</text>
<text x="166.2" y="341.8" font-size="10" text-anchor="start" fill="#111111" stroke="#111111" >Modelled accounting for step back-wearing</text>
<line x1="57.1" y1="331.4" x2="57.1" y2="347.5" stroke="#111111" stroke-width="0.9" />
<line x1="54.5" y1="331.4" x2="59.7" y2="331.4" stroke="#111111" stroke-width="0.9" />
<line x1="54.5" y1="347.5" x2="59.7" y2="347.5" stroke="#111111" stroke-width="0.9" />
<circle cx="57.1" cy="339.3" r="3.0" fill="#000"/>
<text x="64.2" y="343" font-size="10" text-anchor="start" fill="#111111" stroke="#111111" >8 Measured</text>
</svg>
</body></html>
